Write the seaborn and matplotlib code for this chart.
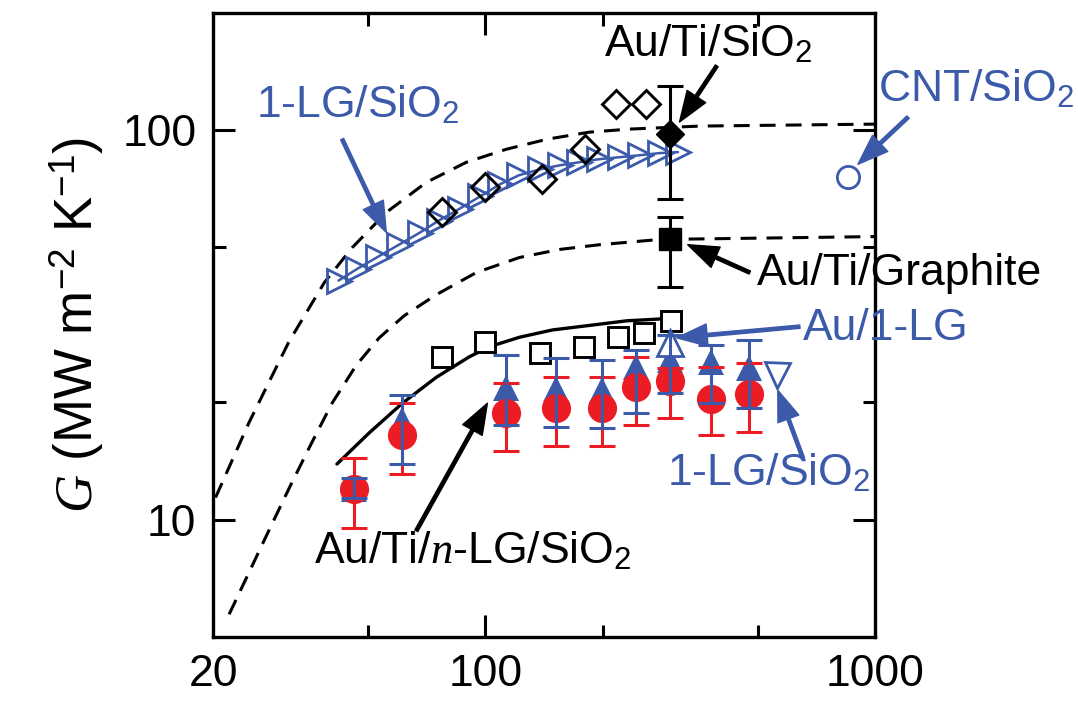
import matplotlib
matplotlib.use("Agg")
import matplotlib.pyplot as plt
import seaborn as sns
from matplotlib.ticker import FixedLocator, FixedFormatter, NullFormatter

BLUE = "#3c5aaa"
RED = "#ec1c24"

# 1-LG/SiO2, open right triangles (temperature sweep)
lg_T = [42, 47, 53, 60, 68, 76, 86, 97, 109, 122, 138, 155, 174, 196, 221, 249, 280, 312]
lg_G = [41.1, 44.1, 47.3, 50.8, 54.6, 58.6, 62.9, 67.6, 72.6, 76.6, 79.3, 81.2,
        82.7, 84.2, 85.2, 86.2, 87.3, 87.8]

# Au/Ti/SiO2, open diamonds
dia_T = [77.5, 100, 140, 180, 217, 259]
dia_G = [61.5, 71.3, 74.7, 89.3, 116.7, 116.7]

# open squares
sq_T = [77.5, 100, 138.5, 178.6, 218.5, 256, 299]
sq_G = [26.2, 28.6, 26.8, 27.8, 29.4, 30.2, 32.4]

# Au/Ti/n-LG/SiO2, red circles and blue triangles
nlg_T = [46, 61.2, 113, 152, 199, 243, 297, 379, 475]
red_G = [12.0, 16.5, 18.8, 19.4, 19.4, 21.9, 22.7, 20.4, 21.0]
red_hi = [14.4, 19.9, 22.5, 23.2, 23.3, 26.2, 24.5, 24.7, 25.2]
red_lo = [9.5, 13.1, 15.0, 15.5, 15.5, 17.5, 18.2, 16.5, 16.8]
blue_G = [12.0, 18.0, 21.8, 21.6, 21.5, 24.6, 25.7, 25.4, 24.5]
blue_hi = [12.8, 20.9, 26.5, 26.0, 25.7, 27.3, 29.8, 28.1, 28.9]
blue_lo = [11.4, 13.9, 17.5, 17.3, 17.2, 18.8, 21.1, 19.9, 19.3]

# single points at room temperature
au_lg_T, au_lg_G = [297], [28.4]
lg_sio_T, lg_sio_G = [560], [23.5]
cnt_T, cnt_G = [852], [75.7]
ausio_T, ausio_G, ausio_hi, ausio_lo = [297], [97.7], [129.8], [66.4]
augr_T, augr_G, augr_hi, augr_lo = [297], [52.4], [60.0], [39.6]

# model curves
fitA_T = [20.3, 24.7, 31.3, 38.6, 45.5, 55.7, 70.5, 89.4, 113.2, 144.3, 185, 234.5, 355, 1000]
fitA_G = [11.4, 17.7, 28.6, 40.6, 49.9, 61.5, 73.4, 82.7, 89.3, 94.8, 98.8, 100.6, 102.4, 103.6]
fitB_T = [22.0, 24.7, 27.8, 31.3, 35.3, 40.4, 46.6, 53.4, 61.9, 74.8, 94.8, 122.3, 155, 196.4, 280, 1000]
fitB_G = [5.72, 7.30, 9.37, 12.0, 15.3, 19.9, 24.9, 29.3, 33.4, 37.8, 43.1, 47.1, 49.4, 50.8, 52.4, 53.3]
fitC_T = [41.6, 50.3, 61.2, 74.8, 91.0, 102.4, 122.3, 148.7, 188.4, 230.4, 288.6]
fitC_G = [13.9, 16.7, 19.9, 23.2, 26.2, 27.8, 29.4, 30.7, 31.6, 32.4, 32.8]

sns.set_theme(style="ticks")
plt.rcParams["font.family"] = ["Liberation Sans", "DejaVu Sans"]
plt.rcParams["mathtext.fontset"] = "custom"
plt.rcParams["mathtext.rm"] = "Liberation Sans"
plt.rcParams["mathtext.it"] = "Liberation Serif:italic"
plt.rcParams["mathtext.bf"] = "Liberation Sans:bold"

fig = plt.figure(figsize=(10.78, 7.11), dpi=100)
ax = fig.add_axes([0.1976, 0.104, 0.6141, 0.878])
ax.set_xscale("log")
ax.set_yscale("log")

dash = (0, (5.2, 3.3))
sns.lineplot(x=fitA_T, y=fitA_G, ax=ax, color="black", lw=2.2, linestyle=dash, sort=False, estimator=None)
sns.lineplot(x=fitB_T, y=fitB_G, ax=ax, color="black", lw=2.2, linestyle=dash, sort=False, estimator=None)
sns.lineplot(x=fitC_T, y=fitC_G, ax=ax, color="black", lw=2.4, sort=False, estimator=None)

sns.lineplot(x=lg_T, y=lg_G, ax=ax, color=BLUE, lw=1.8, marker=">", markersize=17,
             markerfacecolor="none", markeredgecolor=BLUE, markeredgewidth=2.0,
             sort=False, estimator=None)
sns.lineplot(x=dia_T, y=dia_G, ax=ax, linestyle="none", marker="D", markersize=14.5,
             markerfacecolor="none", markeredgecolor="black", markeredgewidth=2.1, estimator=None)
sns.lineplot(x=sq_T, y=sq_G, ax=ax, linestyle="none", marker="s", markersize=15,
             markerfacecolor="white", markeredgecolor="black", markeredgewidth=2.1, estimator=None)

sns.lineplot(x=nlg_T, y=blue_G, ax=ax, linestyle="none", marker="^", markersize=19,
             color=BLUE, markeredgecolor=BLUE, markeredgewidth=0, estimator=None)
sns.lineplot(x=nlg_T, y=red_G, ax=ax, linestyle="none", marker="o", markersize=21,
             color=RED, markeredgecolor=RED, markeredgewidth=0, estimator=None)
ax.errorbar(nlg_T, red_G, yerr=[[g - l for g, l in zip(red_G, red_lo)], [h - g for g, h in zip(red_G, red_hi)]],
            fmt="none", ecolor=RED, elinewidth=2.2, capsize=9.5, capthick=2.2, zorder=5)
ax.errorbar(nlg_T, blue_G, yerr=[[g - l for g, l in zip(blue_G, blue_lo)], [h - g for g, h in zip(blue_G, blue_hi)]],
            fmt="none", ecolor=BLUE, elinewidth=2.2, capsize=9.5, capthick=2.2, zorder=6)

sns.lineplot(x=au_lg_T, y=au_lg_G, ax=ax, linestyle="none", marker="^", markersize=19,
             markerfacecolor="white", markeredgecolor=BLUE, markeredgewidth=2.0, estimator=None)
sns.lineplot(x=lg_sio_T, y=lg_sio_G, ax=ax, linestyle="none", marker="v", markersize=18,
             markerfacecolor="none", markeredgecolor=BLUE, markeredgewidth=2.0, estimator=None)
sns.lineplot(x=cnt_T, y=cnt_G, ax=ax, linestyle="none", marker="o", markersize=16,
             markerfacecolor="none", markeredgecolor=BLUE, markeredgewidth=2.0, estimator=None)

for T, G, hi, lo, mk, ms in [(ausio_T, ausio_G, ausio_hi, ausio_lo, "D", 14),
                             (augr_T, augr_G, augr_hi, augr_lo, "s", 16)]:
    ax.errorbar(T, G, yerr=[[G[0] - lo[0]], [hi[0] - G[0]]], fmt=mk, ms=ms, color="black",
                elinewidth=2.2, capsize=9.5, capthick=2.2, zorder=7)

ax.set_xlim(20, 1000)
ax.set_ylim(5, 200)
ax.xaxis.set_major_locator(FixedLocator([20, 100, 1000]))
ax.xaxis.set_major_formatter(FixedFormatter(["20", "100", "1000"]))
ax.xaxis.set_minor_locator(FixedLocator([50, 200, 500]))
ax.xaxis.set_minor_formatter(NullFormatter())
ax.yaxis.set_major_locator(FixedLocator([10, 100]))
ax.yaxis.set_major_formatter(FixedFormatter(["10", "100"]))
ax.yaxis.set_minor_locator(FixedLocator([20, 50]))
ax.yaxis.set_minor_formatter(NullFormatter())
ax.tick_params(which="both", direction="in", top=True, right=True, width=2.2, colors="black",
               labelsize=32, pad=12)
ax.tick_params(which="major", length=16)
ax.tick_params(which="minor", length=9)
for sp in ax.spines.values():
    sp.set_linewidth(2.4)
    sp.set_color("black")

ax.set_ylabel(r"$G$ (MW m$^{-2}$ K$^{-1}$)", fontsize=38, labelpad=12, color="black")

fs = 32
labels = [
    ("1-LG/SiO$_2$", 25.8, 108.0, BLUE, (42.9, 94.8), (55.7, 54.6)),
    ("Au/Ti/SiO$_2$", 202, 155, "black", (392.5, 146.2), (315, 104.9)),
    ("CNT/SiO$_2$", 1018, 118.8, BLUE, (1216, 108), (904, 81.7)),
    ("Au/Ti/Graphite", 497.5, 40.1, "black", (477, 43.1), (330.6, 50.8)),
    ("Au/1-LG", 653, 28.9, BLUE, (641.5, 31.3), (309.7, 29.3)),
    ("1-LG/SiO$_2$", 292, 12.3, BLUE, (653, 14.4), (563, 21.5)),
    ("Au/Ti/$n$-LG/SiO$_2$", 36.3, 7.75, "black", (66.5, 9.37), (101.2, 19.9)),
]
for txt, tx, ty, col, tail, tip in labels:
    ax.text(tx, ty, txt, color=col, fontsize=fs, ha="left", va="baseline", clip_on=False)
    ax.annotate("", xy=tip, xytext=tail, annotation_clip=False,
                arrowprops=dict(width=2.4, headwidth=16, headlength=22, shrink=0,
                                facecolor=col, edgecolor=col), zorder=8)

fig.savefig("out.png", dpi=100)
